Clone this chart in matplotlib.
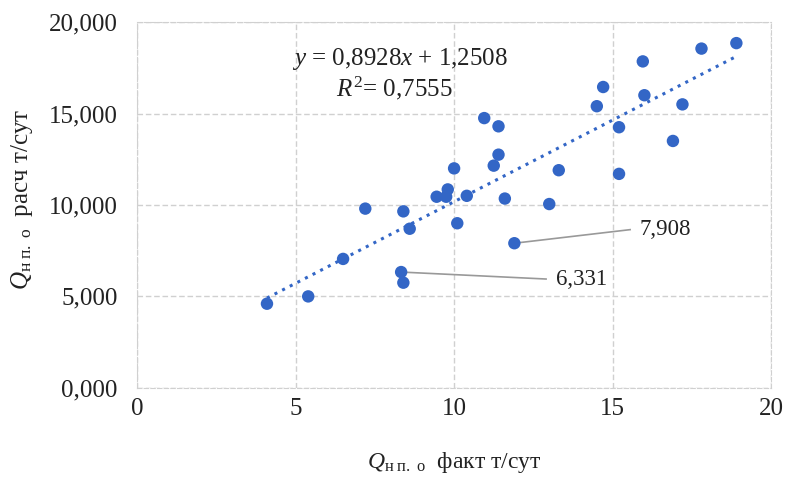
import matplotlib
matplotlib.use('Agg')
import matplotlib.pyplot as plt
import numpy as np

# фактический и расчётный дебит, т/сут
q_fact = [4.1, 5.4, 6.5, 7.2, 8.4, 8.6, 8.33, 8.4, 9.45, 9.75, 9.8, 10.0, 10.1,
          10.4, 10.95, 11.4, 11.25, 11.4, 11.6, 11.9, 13.0, 13.3, 14.5, 14.7,
          15.2, 15.2, 15.95, 16.0, 16.9, 17.2, 17.8, 18.9]
q_calc = [4.6, 5.0, 7.05, 9.8, 9.65, 8.7, 6.331, 5.75, 10.45, 10.45, 10.85, 12.0,
          9.0, 10.5, 14.75, 14.3, 12.15, 12.75, 10.35, 7.908, 10.05, 11.9, 15.4,
          16.45, 14.25, 11.7, 17.85, 16.0, 13.5, 15.5, 18.55, 18.85]

slope, intercept = 0.8928, 1.2508
r2 = 0.7555
x_ticks = [0, 5, 10, 15, 20]
y_ticks = [0, 5, 10, 15, 20]

# подписи отдельных точек: (x, y, текст, x подписи, y подписи)
callouts = [(11.9, 7.908, '7,908', 15.85, 8.65),
            (8.33, 6.331, '6,331', 13.2, 5.95)]

plt.rcParams['font.family'] = ['Liberation Serif', 'DejaVu Serif']
plt.rcParams['mathtext.fontset'] = 'custom'
plt.rcParams['mathtext.rm'] = 'Liberation Serif'
plt.rcParams['mathtext.it'] = 'Liberation Serif:italic'

blue = '#3366c6'
grid_c = '#d0d0d0'
txt_c = '#222222'

fig = plt.figure(figsize=(7.87, 4.80), dpi=100)
ax = fig.add_axes([0.174, 0.192, 0.806, 0.762])

ax.scatter(q_fact, q_calc, s=80, color=blue, zorder=3, edgecolors='none')

xs = np.array([min(q_fact), max(q_fact)])
ax.plot(xs, slope * xs + intercept, linestyle=(0, (1, 1.8)), color=blue,
        linewidth=2.2, zorder=2)

for px, py, txt, tx, ty in callouts:
    ax.plot([px, tx - 0.3], [py, ty], color='#999999', linewidth=1.2, zorder=2)
    ax.text(tx, ty, txt, fontsize=16.5, ha='left', va='center', color=txt_c)

ax.text(8.3, 18.0, r'$y$ = 0,8928$x$ + 1,2508', fontsize=18, ha='center',
        va='center', color=txt_c)
ax.text(8.1, 16.4, r'$R^2$= 0,7555', fontsize=18, ha='center', va='center',
        color=txt_c)

ax.set_xlim(0, 20)
ax.set_ylim(0, 20)
ax.set_xticks(x_ticks)
ax.set_yticks(y_ticks)
ax.set_xticklabels([str(v) for v in x_ticks], fontsize=18)
ax.set_yticklabels([('%.3f' % v).replace('.', ',') for v in y_ticks], fontsize=18)
ax.tick_params(length=0, colors=txt_c)
ax.tick_params(axis='x', pad=7)
ax.tick_params(axis='y', pad=14)

ax.grid(True, color=grid_c, linestyle=(0, (4, 2)), linewidth=1)
ax.set_axisbelow(True)
for s in ax.spines.values():
    s.set_color(grid_c)
    s.set_linestyle((0, (4, 2)))

ax.set_xlabel(r'$Q_{\mathrm{н\ п.\ о}}$  факт т/сут', fontsize=17, labelpad=22,
              color=txt_c)
ax.set_ylabel(r'$Q_{\mathrm{н\ п.\ о}}$  расч т/сут', fontsize=18, labelpad=0,
              color=txt_c)
ax.yaxis.set_label_coords(-0.16, 0.515)

fig.savefig('out.png', dpi=100)
